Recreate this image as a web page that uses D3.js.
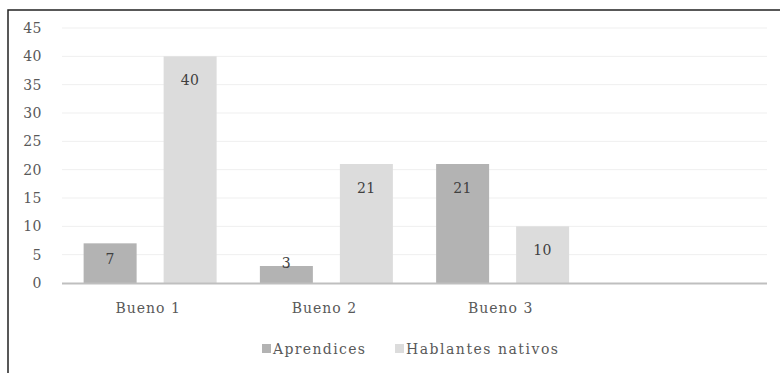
<!DOCTYPE html>
<html>
<head>
<meta charset="utf-8">
<script src="https://cdn.jsdelivr.net/npm/d3@7"></script>
<style>
  html, body { margin: 0; padding: 0; background: #fff; }
  svg { display: block; }
</style>
</head>
<body>
<svg id="chart" width="780" height="373"></svg>
<script>
const categories = ["Bueno 1", "Bueno 2", "Bueno 3", ""];
const seriesNames = ["Aprendices", "Hablantes nativos"];
const aprendices = [7, 3, 21, null];
const hablantes = [40, 21, 10, null];
const yTicks = [0, 5, 10, 15, 20, 25, 30, 35, 40, 45];
const colors = ["#b3b3b3", "#dcdcdc"];
const FONT = "DejaVu Serif";

const svg = d3.select("#chart");

svg.append("rect").attr("x", 8).attr("y", 10).attr("width", 800).attr("height", 400)
  .attr("fill", "none").attr("stroke", "#222").attr("stroke-width", 1.5);

const plot = { left: 62, right: 767, top: 28, bottom: 283 };

const x = d3.scaleBand().domain(d3.range(categories.length))
  .range([plot.left, plot.right]).paddingInner(0).paddingOuter(0);
const y = d3.scaleLinear().domain([0, 45]).range([plot.bottom, plot.top]);

svg.append("g").selectAll("line").data(yTicks.filter(t => t > 0)).join("line")
  .attr("x1", plot.left).attr("x2", plot.right)
  .attr("y1", d => y(d)).attr("y2", d => y(d))
  .attr("stroke", "#efefef").attr("stroke-width", 1);

const yAxis = d3.axisLeft(y).tickValues(yTicks).tickSize(0).tickPadding(0);
const gy = svg.append("g").attr("transform", `translate(42,0)`).call(yAxis)
  .attr("font-family", FONT).attr("font-size", 14);
gy.select(".domain").remove();
gy.selectAll("text").attr("fill", "#595959").attr("letter-spacing", 0.5);

const barW = 53, innerGap = 27;
const sub = d3.scaleOrdinal().domain([0, 1])
  .range([-(innerGap / 2 + barW), innerGap / 2]);

const series = [aprendices, hablantes];
series.forEach((vals, si) => {
  const data = vals.map((v, i) => ({ v, i })).filter(d => d.v != null);
  const g = svg.append("g");
  g.selectAll("rect").data(data).join("rect")
    .attr("x", d => x(d.i) + x.bandwidth() / 2 + sub(si))
    .attr("y", d => y(d.v))
    .attr("width", barW)
    .attr("height", d => y(0) - y(d.v))
    .attr("fill", colors[si]);
  g.selectAll("text").data(data).join("text")
    .attr("x", d => x(d.i) + x.bandwidth() / 2 + sub(si) + barW / 2)
    .attr("y", d => {
      const top = y(d.v), h = y(0) - top;
      if (h < 25) return top - 3 + 5;
      return Math.min(top + 23, y(0) - 25) + 6;
    })
    .attr("text-anchor", "middle")
    .attr("font-family", FONT)
    .attr("font-size", 14)
    .attr("letter-spacing", 0.5)
    .attr("fill", "#404040")
    .text(d => d.v);
});

svg.append("line").attr("x1", plot.left).attr("x2", plot.right)
  .attr("y1", y(0) + 0.5).attr("y2", y(0) + 0.5)
  .attr("stroke", "#bfbfbf").attr("stroke-width", 2);

const xAxis = d3.axisBottom(x).tickFormat(i => categories[i]).tickSize(0).tickPadding(0);
const gx = svg.append("g").attr("transform", `translate(-2,${y(0) + 20})`).call(xAxis)
  .attr("font-family", FONT).attr("font-size", 14);
gx.select(".domain").remove();
gx.selectAll("text").attr("fill", "#595959").attr("letter-spacing", 1);

const legendItems = [
  { name: seriesNames[0], color: colors[0], sx: 262, len: 92 },
  { name: seriesNames[1], color: colors[1], sx: 395, len: 152 }
];
const lg = svg.append("g");
legendItems.forEach(it => {
  lg.append("rect").attr("x", it.sx).attr("y", 344).attr("width", 9).attr("height", 9).attr("fill", it.color);
  lg.append("text").attr("x", it.sx + 11).attr("y", 354)
    .attr("font-family", FONT).attr("font-size", 14).attr("fill", "#595959")
    .attr("textLength", it.len).attr("lengthAdjust", "spacing")
    .text(it.name);
});
</script>
</body>
</html>
